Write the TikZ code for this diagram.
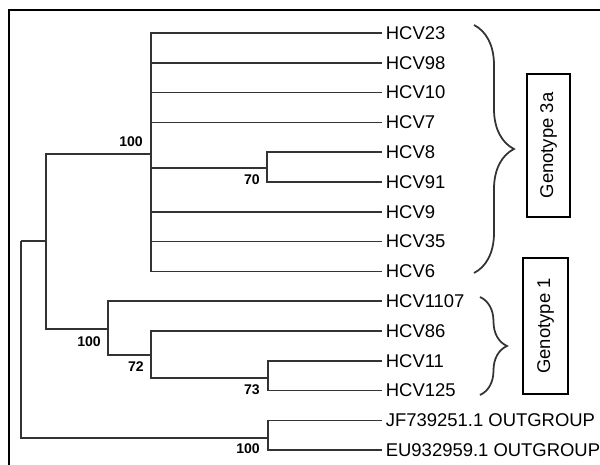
\documentclass[tikz,border=0pt]{standalone}
\usepackage{fontspec}
\setmainfont{Liberation Sans}
\usetikzlibrary{positioning,calc,decorations.pathreplacing}

\begin{document}
\begin{tikzpicture}[
    x=0.02cm, y=-0.02cm,
    br/.style    = {draw, line width=1pt, black!80},
    leaf/.style  = {anchor=west, inner xsep=2pt, inner ysep=0pt,
                    font=\fontsize{10.5}{12}\selectfont},
    bs/.style    = {font=\fontsize{8}{10}\selectfont\bfseries, inner sep=0pt},
    brc/.style   = {draw, line width=1pt, black!80,
                    decorate, decoration={brace, amplitude=#1}},
    gbox/.style  = {draw, line width=1pt, rotate=90, inner sep=0pt,
                    font=\fontsize{10.5}{12}\selectfont},
    frm/.style   = {draw, line width=1.2pt},
]
\useasboundingbox (0,0) rectangle (600,465);

% ============ frame (cut at right and bottom) ============
\draw[frm] (9,465) -- (9,10) -- (600,10);

% ============ leaves ============
\foreach \nm/\lab [count=\i] in {l23/HCV23, l98/HCV98, l10/HCV10, l7/HCV7,
    l8/HCV8, l91/HCV91, l9/HCV9, l35/HCV35, l6/HCV6, l1107/HCV1107,
    l86/HCV86, l11/HCV11, l125/HCV125, ljf/JF739251.1 OUTGROUP,
    leu/EU932959.1 OUTGROUP}
  \node[leaf] (\nm) at (382, {33+(\i-1)*29.8}) {\lab};

% ============ internal nodes ============
\coordinate (root)  at (21,241);
\coordinate (ingrp) at (46,241);
\coordinate (g3a)   at (151,154);
\coordinate (c891)  at (267,168);
\coordinate (g1)    at (108,329);
\coordinate (c86)   at (151,355);
\coordinate (c11)   at (268,378);
\coordinate (og)    at (268,438);

% backbone
\draw[br] (root) -- (ingrp);
\draw[br] (ingrp) |- (g3a);
\draw[br] (ingrp) |- (g1);
\draw[br] (root) |- (og);

% genotype 3a clade
\foreach \nm in {l23,l98,l10,l7,l9,l35,l6}
  \draw[br] (g3a) |- (\nm.west);
\draw[br] (g3a) |- (c891);
\draw[br] (c891) |- (l8.west);
\draw[br] (c891) |- (l91.west);

% genotype 1 clade
\draw[br] (g1) |- (l1107.west);
\draw[br] (g1) |- (c86);
\draw[br] (c86) |- (l86.west);
\draw[br] (c86) |- (c11);
\draw[br] (c11) |- (l11.west);
\draw[br] (c11) |- (l125.west);

% outgroup
\draw[br] (og) |- (ljf.west);
\draw[br] (og) |- (leu.west);

% ============ bootstrap values ============
\node[bs] (b3a)  at (131,142) {100};
\node[bs] (b891) at (252,180) {70};
\node[bs] (bg1)  at (89,342)  {100};
\node[bs] (b86)  at (136,367) {72};
\node[bs] (b11)  at (252,390) {73};
\node[bs] (bog)  at (248,449) {100};

% ============ genotype braces and boxes ============
\coordinate (br3aT) at (474,25);
\coordinate (br3aB) at (474,273);
\coordinate (br1T)  at (480,297);
\coordinate (br1B)  at (480,395);
\draw[brc=0.8cm] (br3aT) -- (br3aB);
\draw[brc=0.54cm] (br1T) -- (br1B);

\node[gbox, minimum width=2.86cm, minimum height=0.86cm] (box3a)
  at (548.5,145.5) {Genotype 3a};
\node[gbox, minimum width=2.72cm, minimum height=0.9cm] (box1)
  at (545.5,326) {Genotype 1};

\end{tikzpicture}
\end{document}
